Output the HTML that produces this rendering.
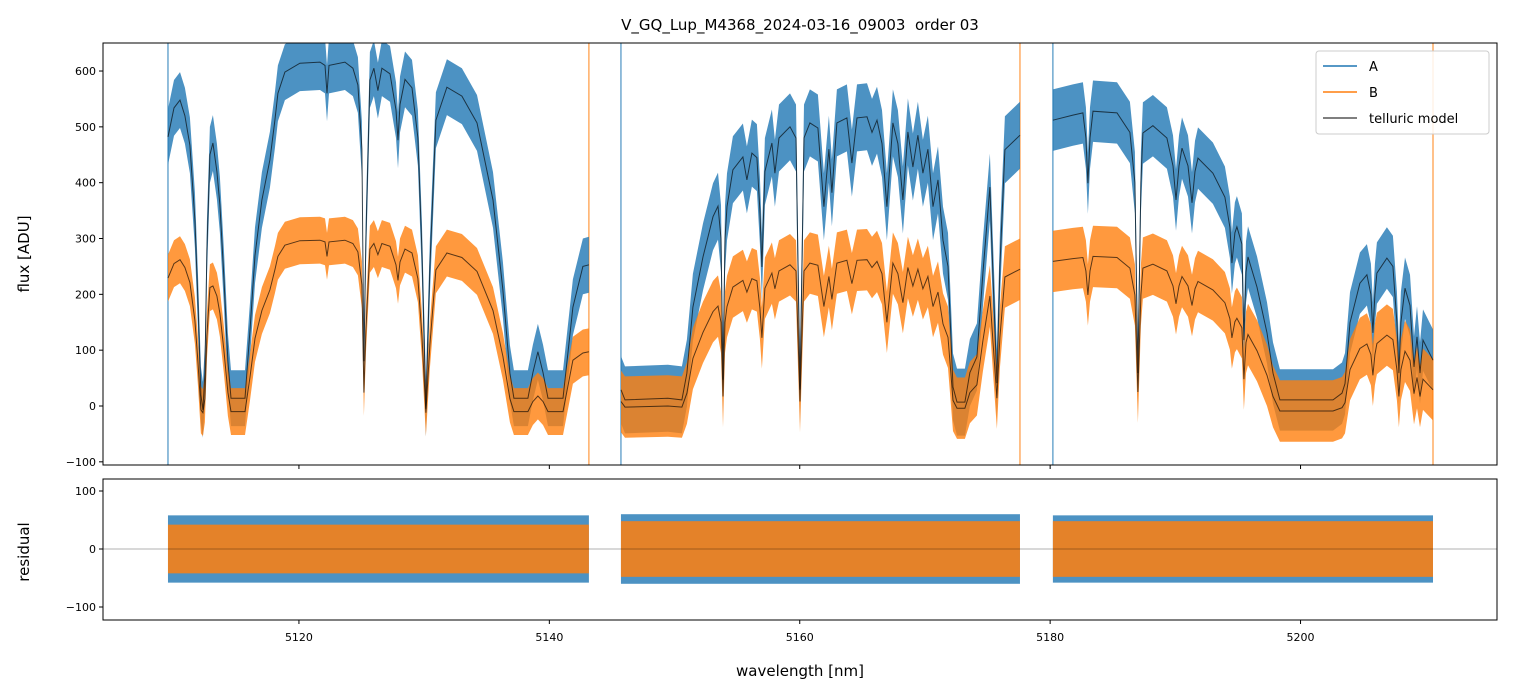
<!DOCTYPE html>
<html><head><meta charset="utf-8"><style>
html,body{margin:0;padding:0;background:#fff}
svg{display:block;font-family:"DejaVu Sans","Liberation Sans",sans-serif}
</style></head><body>
<svg id="chart" width="1513" height="696" viewBox="0 0 1513 696">
<defs>
<clipPath id="clipTop"><rect x="103" y="43" width="1394" height="422"/></clipPath>
<clipPath id="clipBot"><rect x="103" y="479" width="1394" height="141"/></clipPath>
</defs>
<rect width="1513" height="696" fill="#fff"/>
<text x="800" y="30" text-anchor="middle" font-size="15" style="white-space:pre">V_GQ_Lup_M4368_2024-03-16_09003  order 03</text>
<g id="topPanel" clip-path="url(#clipTop)"></g>
<g id="botPanel" clip-path="url(#clipBot)"></g>
<g id="axesG"></g>
<text x="0" y="0" transform="translate(29,254) rotate(-90)" text-anchor="middle" font-size="15">flux [ADU]</text>
<text x="0" y="0" transform="translate(29,552) rotate(-90)" text-anchor="middle" font-size="15">residual</text>
<text x="800" y="676" text-anchor="middle" font-size="15">wavelength [nm]</text>
<g>
<rect x="1316" y="51" width="173" height="83" rx="3" fill="#fff" fill-opacity="0.85" stroke="#ccc"/>
<line x1="1323" y1="66" x2="1357" y2="66" stroke="#1f77b4" stroke-width="1.5"/>
<text x="1369" y="71" font-size="13">A</text>
<line x1="1323" y1="92" x2="1357" y2="92" stroke="#ff7f0e" stroke-width="1.5"/>
<text x="1369" y="97" font-size="13">B</text>
<line x1="1323" y1="118" x2="1357" y2="118" stroke="#555" stroke-width="1.5"/>
<text x="1369" y="123" font-size="13">telluric model</text>
</g>
</svg>
<script>
// ---- data ----
const seg1Wl = [5109.54,5110.02,5110.50,5110.89,5111.29,5111.69,5111.93,5112.17,5112.33,5112.49,5112.65,5112.89,5113.13,5113.45,5113.69,5114.01,5114.33,5114.57,5115.69,5116.09,5116.49,5117.04,5117.68,5118.08,5118.32,5118.88,5120.08,5121.68,5122.08,5122.24,5122.40,5123.67,5124.31,5124.71,5125.03,5125.19,5125.35,5125.67,5125.99,5126.31,5126.63,5127.27,5127.75,5127.91,5128.07,5128.47,5129.03,5129.50,5129.82,5130.14,5130.46,5130.94,5131.82,5133.02,5134.22,5135.50,5136.29,5136.85,5137.17,5138.29,5138.69,5139.09,5139.49,5139.89,5141.09,5141.88,5142.68,5143.16];
const seg1A = [482,534,548,520,467,333,190,20,-7,60,280,450,471,420,360,230,80,14,14,136,270,369,441,512,560,598,614,616,610,560,610,616,605,575,460,80,300,584,605,565,605,595,530,476,540,585,570,480,280,-5,250,512,571,555,507,369,208,59,14,14,60,97,60,14,14,177,250,253];
const seg1B = [229,255,262,248,221,153,80,-7,-12,13,126,212,215,197,166,100,24,-10,-10,52,121,171,208,244,268,288,296,297,294,268,294,297,291,276,217,24,136,281,291,271,291,286,253,225,258,281,274,228,126,-12,110,244,274,266,241,171,89,13,-10,-10,8,18,8,-10,-10,82,95,97];
const seg2Wl = [5145.72,5146.04,5149.47,5150.59,5150.99,5151.47,5152.27,5153.07,5153.47,5153.71,5153.87,5154.03,5154.19,5154.66,5155.46,5155.78,5156.18,5156.58,5156.82,5156.98,5157.22,5157.78,5158.02,5158.34,5159.22,5159.70,5160.02,5160.34,5160.81,5161.45,5161.93,5162.33,5162.57,5162.97,5163.77,5164.17,5164.57,5165.37,5165.77,5166.17,5166.57,5166.96,5167.44,5167.84,5168.24,5168.64,5169.04,5169.44,5169.84,5170.24,5170.64,5171.04,5171.44,5171.84,5172.24,5172.56,5173.19,5173.59,5174.15,5174.63,5175.19,5175.43,5175.75,5175.99,5176.39,5177.59];
const seg2A = [29,11,14,11,59,177,267,339,358,300,47,300,357,423,446,405,453,445,350,249,420,471,417,480,500,480,29,480,507,498,357,460,382,507,516,435,516,518,490,512,470,357,507,470,369,491,428,485,417,460,357,405,297,250,34,7,7,60,88,238,392,238,41,250,459,485];
const seg2B = [8,-2,0,-2,23,85,132,169,179,150,17,150,178,213,225,204,228,224,175,122,211,238,210,242,253,242,8,242,256,252,178,232,191,256,261,219,261,262,248,259,237,150,256,237,185,248,215,245,210,232,178,204,147,123,10,-4,-4,24,38,117,197,117,14,123,231,245];
const seg3Wl = [5180.22,5181.82,5182.62,5182.86,5183.02,5183.18,5183.42,5185.34,5186.37,5186.77,5187.01,5187.25,5187.41,5188.21,5189.33,5189.81,5190.05,5190.29,5190.53,5191.01,5191.33,5191.57,5191.81,5193.00,5193.96,5194.36,5194.52,5194.76,5194.92,5195.32,5195.48,5195.64,5195.80,5196.52,5197.32,5197.80,5198.35,5202.59,5203.31,5203.55,5203.95,5204.74,5205.30,5205.62,5205.78,5205.94,5206.10,5206.90,5207.38,5207.70,5207.86,5208.02,5208.34,5208.74,5209.06,5209.30,5209.54,5209.78,5210.58];
const seg3A = [512,521,525,480,399,480,528,525,490,400,59,400,489,502,480,430,369,430,462,430,364,420,444,417,374,320,256,310,321,290,118,240,267,213,131,59,11,11,23,40,149,220,235,200,131,200,238,265,250,150,59,150,211,180,70,124,59,118,82];
const seg3B = [259,264,266,242,199,242,268,266,247,199,25,199,247,254,242,215,183,215,232,215,180,210,223,208,185,156,122,151,157,140,48,114,128,99,55,17,-9,-9,-3,6,65,103,111,92,55,92,112,127,119,65,17,65,98,82,22,51,17,48,29];
// noise envelope half-widths (per segment)
const noiseA = [50, 60, 55];
const noiseB = [42, 55, 55];
const residHalfA = [58, 60, 58];
const residHalfB = [42, 48, 48];
const xTicks = [5120,5140,5160,5180,5200];
const yTicksTop = [600,500,400,300,200,100,0,-100];
const yTicksBot = [100,0,-100];

// ---- axes functions ----
const X0=103, X1=1497, WL0=5104.35, PXNM=12.52;
const xs = w => X0 + (w - WL0) * PXNM;
const ysT = v => 406 - v * 0.5583;
const ysB = v => 549 - v * 0.58;
const NS = 'http://www.w3.org/2000/svg';
function mk(tag, attrs, parent){ const e=document.createElementNS(NS,tag); for(const k in attrs) e.setAttribute(k,attrs[k]); parent.appendChild(e); return e; }

const topG = document.getElementById('topPanel');
const botG = document.getElementById('botPanel');
const axesG = document.getElementById('axesG');
const segs = [[seg1Wl,seg1A,seg1B],[seg2Wl,seg2A,seg2B],[seg3Wl,seg3A,seg3B]];

function bandPath(wl, vals, half, ys){
  let up = wl.map((w,i)=>xs(w).toFixed(1)+','+ys(vals[i]+half).toFixed(1));
  let lo = wl.map((w,i)=>xs(w).toFixed(1)+','+ys(vals[i]-half).toFixed(1)).reverse();
  return 'M'+up.join('L')+'L'+lo.join('L')+'Z';
}
function linePath(wl, vals, ys){ return 'M'+wl.map((w,i)=>xs(w).toFixed(1)+','+ys(vals[i]).toFixed(1)).join('L'); }

segs.forEach((s,k)=>{
  const wl=s[0];
  [wl[0], wl[wl.length-1]].forEach((w,j)=>{
    const l = mk('line',{x1:xs(w),x2:xs(w),y1:43,y2:465,stroke:j?'#ff7f0e':'#1f77b4','stroke-width':1.2,opacity:0.8},topG);
    
    
  });
});

segs.forEach((s,k)=>{
  const [wl,a,b]=s;
  const pa = mk('path',{d:bandPath(wl,a,noiseA[k],ysT),fill:'#1f77b4','fill-opacity':0.8},topG);
  
  
});
segs.forEach((s,k)=>{
  const [wl,a,b]=s;
  const pb = mk('path',{d:bandPath(wl,b,noiseB[k],ysT),fill:'#ff7f0e','fill-opacity':0.8},topG);
  
  
});
segs.forEach((s,k)=>{
  const [wl,a,b]=s;
  const ma = mk('path',{d:linePath(wl,a,ysT),fill:'none',stroke:'#000','stroke-opacity':0.65,'stroke-width':1},topG);
  
  
  const mb = mk('path',{d:linePath(wl,b,ysT),fill:'none',stroke:'#000','stroke-opacity':0.65,'stroke-width':1},topG);
  
  
});

segs.forEach((s,k)=>{
  const wl=s[0];
  const x1=xs(wl[0]), x2=xs(wl[wl.length-1]);
  const ra = mk('rect',{x:x1,width:x2-x1,y:ysB(residHalfA[k]),height:ysB(-residHalfA[k])-ysB(residHalfA[k]),fill:'#1f77b4','fill-opacity':0.8},botG);
  
  
  const rb = mk('rect',{x:x1,width:x2-x1,y:ysB(residHalfB[k]),height:ysB(-residHalfB[k])-ysB(residHalfB[k]),fill:'#ff7f0e','fill-opacity':0.85},botG);
  
  
});
const zl = mk('line',{x1:X0,x2:X1,y1:ysB(0),y2:ysB(0),stroke:'#000','stroke-opacity':0.6,'stroke-width':0.6},botG);



const f1 = mk('rect',{x:103,y:43,width:1394,height:422,fill:'none',stroke:'#000','stroke-width':1},axesG);


const f2 = mk('rect',{x:103,y:479,width:1394,height:141,fill:'none',stroke:'#000','stroke-width':1},axesG);



xTicks.forEach(t=>{
  const x=xs(t);
  mk('line',{x1:x,x2:x,y1:465,y2:469,stroke:'#000'},axesG);
  mk('line',{x1:x,x2:x,y1:620,y2:624,stroke:'#000'},axesG);
  const tx = mk('text',{x:x,y:641,'text-anchor':'middle','font-size':11},axesG);
  tx.textContent=t;
  
  
});
yTicksTop.forEach(t=>{
  const y=ysT(t);
  mk('line',{x1:99,x2:103,y1:y,y2:y,stroke:'#000'},axesG);
  const tx = mk('text',{x:96,y:y+4,'text-anchor':'end','font-size':11},axesG);
  tx.textContent = t<0 ? '\u2212'+(-t) : t;
  
  
});
yTicksBot.forEach(t=>{
  const y=ysB(t);
  mk('line',{x1:99,x2:103,y1:y,y2:y,stroke:'#000'},axesG);
  const tx = mk('text',{x:96,y:y+4,'text-anchor':'end','font-size':11},axesG);
  tx.textContent = t<0 ? '\u2212'+(-t) : t;
  
  
});
</script>
</body></html>
